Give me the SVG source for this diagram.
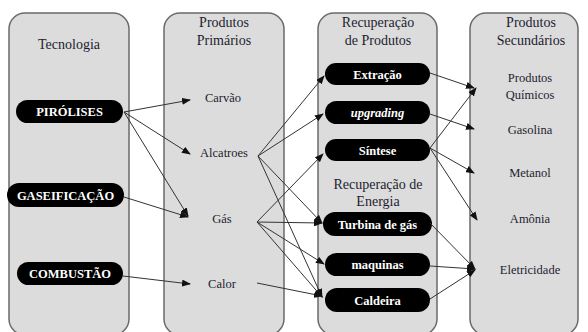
<svg xmlns="http://www.w3.org/2000/svg" width="588" height="332" viewBox="0 0 588 332" font-family="'Liberation Serif', 'Times New Roman', 'DejaVu Serif', serif">
<style>
.col{fill:#dcdcdc;stroke:#6a6a6a;stroke-width:1.5}
.t{font-size:14px;fill:#1c1c30;text-anchor:middle}
.p{font-size:12.5px;fill:#1c1c30;text-anchor:middle}
.pill{fill:#000}
.pt{font-size:12.5px;font-weight:bold;fill:#fff;text-anchor:middle}
.c{stroke:#333;stroke-width:1;fill:none;marker-end:url(#ah)}
</style>
<defs>
<marker id="ah" markerUnits="userSpaceOnUse" markerWidth="9" markerHeight="7" refX="8" refY="3.5" orient="auto">
<path d="M0,0 L9,3.5 L0,7 Z" fill="#111"/>
</marker>
</defs>
<rect width="588" height="332" fill="#fff"/>
<g id="col-tecnologia">
<rect class="col" x="9" y="13" width="120" height="322" rx="16"/>
<text class="t" x="69" y="49">Tecnologia</text>
</g>
<g id="col-primarios">
<rect class="col" x="164" y="13" width="120" height="322" rx="16"/>
<text class="t" x="224" y="27">Produtos</text>
<text class="t" x="224" y="45">Primários</text>
</g>
<g id="col-recuperacao">
<rect class="col" x="318" y="13" width="119" height="322" rx="16"/>
<text class="t" x="378" y="27">Recuperação</text>
<text class="t" x="378" y="45">de Produtos</text>
<text class="t" x="378" y="189">Recuperação de</text>
<text class="t" x="378" y="206">Energia</text>
</g>
<g id="col-secundarios">
<rect class="col" x="470" y="13" width="108" height="322" rx="16"/>
<text class="t" x="531" y="27">Produtos</text>
<text class="t" x="531" y="45">Secundários</text>
</g>
<g id="pirolises"><rect class="pill" x="16" y="100" width="107" height="23" rx="11.5"/><text class="pt" x="69.5" y="116">PIRÓLISES</text></g>
<g id="gaseificacao"><rect class="pill" x="7" y="183" width="117" height="24" rx="12"/><text class="pt" x="65.5" y="199.5">GASEIFICAÇÃO</text></g>
<g id="combustao"><rect class="pill" x="17" y="262" width="106" height="23" rx="11.5"/><text class="pt" x="70" y="278">COMBUSTÃO</text></g>
<g id="carvao"><text class="p" x="223" y="102">Carvão</text></g>
<g id="alcatroes"><text class="p" x="224" y="157">Alcatroes</text></g>
<g id="gas"><text class="p" x="222" y="223">Gás</text></g>
<g id="calor"><text class="p" x="222" y="288">Calor</text></g>
<g id="extracao"><rect class="pill" x="325" y="63" width="105" height="22" rx="11"/><text class="pt" x="377.5" y="78.5">Extração</text></g>
<g id="upgrading"><rect class="pill" x="325" y="101" width="105" height="23" rx="11.5"/><text class="pt" x="377.5" y="117" font-style="italic">upgrading</text></g>
<g id="sintese"><rect class="pill" x="325" y="139" width="105" height="22" rx="11"/><text class="pt" x="377.5" y="154.5">Síntese</text></g>
<g id="turbina"><rect class="pill" x="323" y="212" width="109" height="24" rx="12"/><text class="pt" x="377.5" y="228.5" font-size="14">Turbina de gás</text></g>
<g id="maquinas"><rect class="pill" x="325" y="253" width="105" height="23" rx="11.5"/><text class="pt" x="377.5" y="269">maquinas</text></g>
<g id="caldeira"><rect class="pill" x="325" y="288" width="105" height="24" rx="12"/><text class="pt" x="377.5" y="304.5">Caldeira</text></g>
<g id="produtos-quimicos"><text class="p" x="530" y="82">Produtos</text><text class="p" x="530" y="99">Químicos</text></g>
<g id="gasolina"><text class="p" x="530" y="134">Gasolina</text></g>
<g id="metanol"><text class="p" x="530" y="177">Metanol</text></g>
<g id="amonia"><text class="p" x="530" y="223">Amônia</text></g>
<g id="eletricidade"><text class="p" x="530" y="274">Eletricidade</text></g>
<g id="connectors">
<line class="c" x1="124" y1="112" x2="190" y2="100"/>
<line class="c" x1="124" y1="112" x2="190" y2="154"/>
<line class="c" x1="124" y1="112" x2="188" y2="216"/>
<line class="c" x1="124" y1="197" x2="188" y2="217"/>
<line class="c" x1="123" y1="276" x2="190" y2="284"/>
<line class="c" x1="258" y1="156" x2="324" y2="76"/>
<line class="c" x1="258" y1="156" x2="323" y2="114"/>
<line class="c" x1="258" y1="156" x2="322" y2="223"/>
<line class="c" x1="258" y1="156" x2="322" y2="297"/>
<line class="c" x1="257" y1="222" x2="323" y2="154"/>
<line class="c" x1="257" y1="222" x2="322" y2="223"/>
<line class="c" x1="257" y1="222" x2="324" y2="264"/>
<line class="c" x1="257" y1="222" x2="322" y2="297"/>
<line class="c" x1="257" y1="283" x2="322" y2="296"/>
<line class="c" x1="430" y1="73" x2="474" y2="88"/>
<line class="c" x1="430" y1="114" x2="474" y2="129"/>
<line class="c" x1="430" y1="148" x2="476" y2="88"/>
<line class="c" x1="430" y1="148" x2="474" y2="173"/>
<line class="c" x1="430" y1="148" x2="477" y2="220"/>
<line class="c" x1="430" y1="223" x2="475" y2="269"/>
<line class="c" x1="430" y1="266" x2="475" y2="269"/>
<line class="c" x1="430" y1="299" x2="475" y2="270"/>
</g>
</svg>
